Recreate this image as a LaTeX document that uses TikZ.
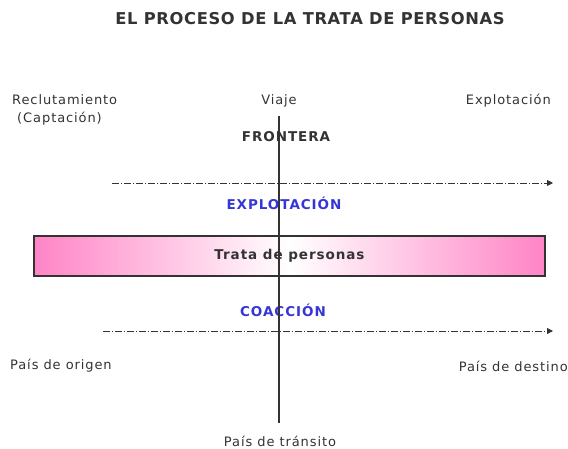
\documentclass[tikz,border=0pt]{standalone}
\usepackage{fontspec}
\setmainfont{DejaVu Sans}[LetterSpace=7]
\newfontfamily\titlefont{DejaVu Sans}[LetterSpace=4]
\usetikzlibrary{arrows.meta}

\definecolor{txtgray}{HTML}{333333}
\definecolor{accblue}{HTML}{3636D8}
\definecolor{barpink}{HTML}{FF84C6}

\tikzset{
    label/.style={text=txtgray, font=\fontsize{13}{18}\selectfont, inner sep=0pt},
    heading/.style={text=txtgray, font=\fontsize{13.5}{15}\selectfont\bfseries, inner sep=0pt},
    stage/.style={text=accblue, font=\fontsize{13.5}{15}\selectfont\bfseries, inner sep=0pt},
    route/.style={draw=txtgray, thick, dash pattern=on 7pt off 2pt on 1pt off 2pt, -{Triangle[length=6pt,width=6pt]}},
    border/.style={draw=txtgray, line width=1.6pt}
}

\begin{document}
\begin{tikzpicture}[x=1pt, y=-1pt]
        \useasboundingbox (0,0) rectangle (568,449);

        % Nodes
        \node (title) [heading, font=\titlefont\fontsize{16.3}{18}\selectfont\bfseries] at (310,19) {EL PROCESO DE LA TRATA DE PERSONAS};
        \node (recl) [label, align=left, anchor=north west] at (12,94) {Reclutamiento\\\ (Captación)};
        \node (viaje) [label] at (279,101) {Viaje};
        \node (expl) [label, anchor=east] at (551,101) {Explotación};
        \node (frontera) [heading] at (286,137) {FRONTERA};
        \node (explot) [stage] at (284,203) {EXPLOTACIÓN};
        \node (trata) [border, minimum width=511pt, minimum height=40pt, inner sep=0pt,
            left color=barpink, right color=barpink, middle color=white] at (289.5,256) {};
        \node (coac) [stage] at (283,310) {COACCIÓN};
        \node (origen) [label, anchor=west] at (10,366) {País de origen};
        \node (destino) [label, anchor=east] at (568,366) {País de destino};
        \node (transito) [label] at (280,441) {País de tránsito};
        \coordinate (ftop) at (279,116);
        \coordinate (fbot) at (279,423);
        \coordinate (a1) at (112,183);
        \coordinate (a2) at (553,183);
        \coordinate (b1) at (103,331);
        \coordinate (b2) at (553,331);

        % Edges
        \draw[route] (a1) -- (a2);
        \draw[route] (b1) -- (b2);
        \draw[txtgray, line width=1.6pt] (ftop) -- (fbot);
        \node [heading] at (trata) {Trata de personas};
    \end{tikzpicture}
\end{document}
